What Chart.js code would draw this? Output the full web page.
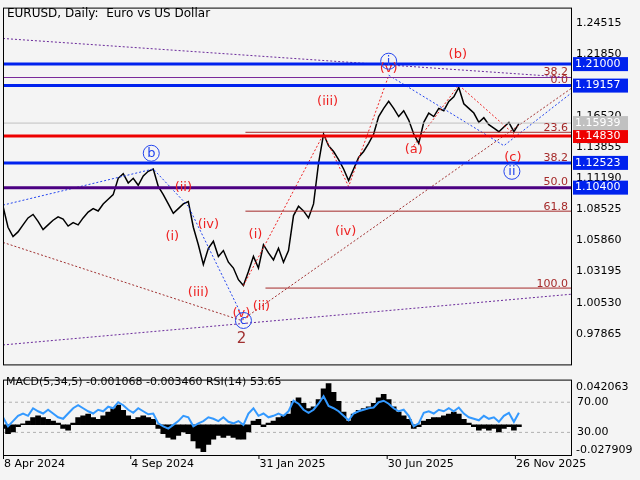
<!DOCTYPE html>
<html><head><meta charset="utf-8">
<script src="https://cdn.jsdelivr.net/npm/chart.js@4/dist/chart.umd.min.js"></script>
<style>
body{margin:0;background:#f4f4f4;width:640px;height:480px;overflow:hidden;font-family:"DejaVu Sans",sans-serif}
canvas{position:absolute;left:0}
#c1{top:0}#c2{top:372px}
</style></head><body>
<canvas id="c1" width="640" height="372"></canvas>
<canvas id="c2" width="640" height="108"></canvas>
<script>
const xs = Array.from({length:104},(_,i)=>i*5);
const closes = [1.088,1.070,1.062,1.066,1.072,1.078,1.081,1.075,1.068,1.072,1.076,1.079,1.077,1.071,1.074,1.072,1.078,1.083,1.086,1.084,1.090,1.094,1.098,1.112,1.116,1.108,1.112,1.106,1.114,1.118,1.120,1.105,1.098,1.090,1.082,1.086,1.090,1.092,1.070,1.055,1.038,1.052,1.058,1.045,1.050,1.040,1.035,1.025,1.020,1.032,1.045,1.035,1.055,1.048,1.042,1.052,1.040,1.050,1.080,1.088,1.084,1.078,1.090,1.125,1.150,1.140,1.135,1.128,1.120,1.110,1.120,1.130,1.135,1.142,1.150,1.165,1.172,1.178,1.172,1.165,1.170,1.162,1.150,1.142,1.160,1.168,1.165,1.172,1.170,1.178,1.182,1.190,1.176,1.172,1.168,1.160,1.164,1.158,1.155,1.152,1.156,1.160,1.152,1.159];
const rsi = [50,38,45,52,55,52,62,58,55,60,55,50,48,55,62,66,62,58,55,60,58,64,62,70,66,60,56,62,58,54,55,42,38,35,40,45,52,50,38,42,45,50,48,45,50,44,42,45,40,55,62,52,55,50,52,55,52,58,72,68,60,56,60,68,78,65,62,58,52,46,55,58,60,62,63,70,72,68,62,58,60,52,38,42,56,58,55,60,58,62,58,63,55,50,48,46,52,48,50,44,52,56,44,56];
const macd = [-0.004,-0.010,-0.008,-0.002,0.001,0.004,0.008,0.010,0.008,0.006,0.004,0.002,-0.004,-0.006,0.002,0.008,0.010,0.012,0.008,0.006,0.010,0.014,0.018,0.022,0.016,0.010,0.006,0.008,0.010,0.008,0.006,-0.004,-0.010,-0.014,-0.016,-0.012,-0.008,-0.010,-0.018,-0.026,-0.030,-0.022,-0.016,-0.012,-0.014,-0.012,-0.014,-0.016,-0.016,-0.008,0.004,0.006,-0.002,0.002,0.004,0.008,0.010,0.012,0.026,0.030,0.024,0.018,0.020,0.028,0.040,0.046,0.036,0.026,0.014,0.004,0.012,0.016,0.018,0.020,0.024,0.030,0.034,0.028,0.020,0.014,0.010,0.006,-0.004,-0.002,0.004,0.006,0.008,0.008,0.010,0.012,0.014,0.012,0.006,0.002,-0.002,-0.006,-0.004,-0.006,-0.004,-0.008,-0.004,-0.002,-0.006,-0.002];
const priceTicks = [1.24515,1.21850,1.16520,1.13855,1.11190,1.08525,1.05860,1.03195,1.00530,0.97865];
const levels = [ {v:1.21000,c:'#0022ee',w:3,box:'#0022ee'}, {v:1.19157,c:'#0022ee',w:3,box:'#0022ee'}, {v:1.14830,c:'#ee0000',w:3,box:'#ee0000'}, {v:1.12523,c:'#0022ee',w:3,box:'#0022ee'}, {v:1.10400,c:'#4b0082',w:3,box:'#0022ee'}, {v:1.15939,c:'#c0c0c0',w:1,box:'#c0c0c0'}, {v:1.1985,c:'#7a2a9a',w:1,box:null} ];
const fibLevels = [[242,1.1916],[242,1.1515],[242,1.1254],[242,1.0838],[262,1.0178]];
const fibLabels = [['38.2',1.2034],['0.0',1.1960],['23.6',1.1550],['38.2',1.1294],['50.0',1.1083],['61.8',1.0870],['100.0',1.0215]];
const dateLabels = [['8 Apr 2024',0],['4 Sep 2024',127],['31 Jan 2025',255],['30 Jun 2025',383],['26 Nov 2025',511]];
const waveRed = [['(ii)',180,1.104],['(i)',169,1.062],['(iv)',205,1.072],['(iii)',195,1.014],['(v)',238,0.996],['(ii)',258,1.002],['(i)',252,1.064],['(iii)',324,1.178],['(iv)',342,1.066],['(v)',385,1.206],['(a)',410,1.137],['(b)',454,1.218],['(c)',509,1.130]];
const waveBlue = [['b',148,1.1335],['c',240,0.990],['i',385,1.2125],['ii',508,1.118]];
const dotted = [
 {p:[[0,1.232],[567,1.1985]],c:'#6a2a9a'},
 {p:[[0,0.969],[567,1.0125]],c:'#6a2a9a'},
 {p:[[0,1.057],[238,0.990],[567,1.189]],c:'#a03030'},
 {p:[[0,1.089],[150,1.120],[185,1.088],[238,0.995]],c:'#2244ee'},
 {p:[[385,1.2005],[500,1.140],[567,1.185]],c:'#2244ee'},
 {p:[[240,1.020],[320,1.150],[345,1.105],[385,1.200]],c:'#ee2222'},
 {p:[[410,1.140],[455,1.192],[510,1.150]],c:'#ee2222'}
];
const toPts = a=>a.map(q=>({x:q[0],y:q[1]}));
const ds = [];
levels.forEach(l=>ds.push({data:toPts([[0,l.v],[567,l.v]]),borderColor:l.c,borderWidth:l.w,pointRadius:0}));
fibLevels.forEach(f=>ds.push({data:toPts([[f[0],f[1]],[567,f[1]]]),borderColor:'#a52a2a',borderWidth:1,pointRadius:0}));
dotted.forEach(d=>ds.push({data:toPts(d.p),borderColor:d.c,borderWidth:1,borderDash:[2,2],pointRadius:0}));
ds.push({data:xs.map((x,i)=>({x,y:closes[i]})),borderColor:'#000',borderWidth:1.5,pointRadius:0,tension:0});

const border = {id:'bd',afterDraw(ch){const a=ch.chartArea,c=ch.ctx;c.save();c.strokeStyle='#000';c.lineWidth=1;c.strokeRect(a.left+.5,a.top+.5,a.right-a.left,a.bottom-a.top);c.restore();}};
const anno = {id:'an',afterDraw(ch){
 const c=ch.ctx,X=ch.scales.x,Y=ch.scales.y;c.save();
 c.font='12px "DejaVu Sans"';c.fillStyle='#000';c.textBaseline='middle';c.textAlign='left';
 c.fillText('EURUSD, Daily:  Euro vs US Dollar',7,14);
 c.font='11px "DejaVu Sans"';c.fillStyle='#a52a2a';c.textAlign='right';
 fibLabels.forEach(f=>c.fillText(f[0],568,Y.getPixelForValue(f[1])));
 c.font='13px "DejaVu Sans"';c.textAlign='center';c.fillStyle='#ee2222';
 waveRed.forEach(w=>c.fillText(w[0],X.getPixelForValue(w[1]),Y.getPixelForValue(w[2])));
 c.fillStyle='#a03030';c.font='15px "DejaVu Sans"';c.fillText('2',X.getPixelForValue(238),Y.getPixelForValue(0.974));
 c.font='13px "DejaVu Sans"';
 waveBlue.forEach(w=>{const px=X.getPixelForValue(w[1]),py=Y.getPixelForValue(w[2]);c.strokeStyle='#2244ee';c.lineWidth=1;c.beginPath();c.arc(px,py,8,0,Math.PI*2);c.stroke();c.fillStyle='#2244ee';c.fillText(w[0],px,py);});
 c.textAlign='left';c.font='11px "DejaVu Sans"';
 levels.forEach(l=>{if(!l.box)return;const py=Y.getPixelForValue(l.v);c.fillStyle=l.box;c.fillRect(573,py-7,55,14);c.fillStyle='#fff';c.fillText(l.v.toFixed(5),575,py);});
 c.restore();}};
new Chart(document.getElementById('c1'),{type:'line',data:{datasets:ds},
 options:{animation:false,responsive:false,events:[],layout:{padding:{left:3,top:3,right:0,bottom:1}},
 plugins:{legend:{display:false},tooltip:{enabled:false}},
 scales:{x:{type:'linear',min:0,max:567,display:false},
 y:{position:'right',min:0.9523,max:1.2585,afterFit(s){s.width=69;},afterBuildTicks(s){s.ticks=priceTicks.map(v=>({value:v}));},
  grid:{display:false,drawTicks:true,tickLength:4,tickColor:'#000'},border:{display:false},
  ticks:{color:'#000',font:{family:'DejaVu Sans',size:11},padding:1,callback:v=>v.toFixed(5)}}}},
 plugins:[border,anno]});

const anno2 = {id:'an2',afterDraw(ch){
 const c=ch.ctx,X=ch.scales.x,R=ch.scales.yr;c.save();c.font='11px "DejaVu Sans"';c.fillStyle='#000';c.textBaseline='middle';
 c.fillText('MACD(5,34,5) -0.001068 -0.003460 RSI(14) 53.65',6,10);
 c.fillText('70.00',577,R.getPixelForValue(70));c.fillText('30.00',577,R.getPixelForValue(30));
 c.textBaseline='top';
 dateLabels.forEach(d=>{const px=X.getPixelForValue(d[1]);c.fillRect(px,ch.chartArea.bottom,1,4);c.fillText(d[0],px+1,ch.chartArea.bottom+4);});
 c.restore();}};
new Chart(document.getElementById('c2'),{data:{datasets:[
 {type:'line',data:[{x:0,y:70},{x:567,y:70}],yAxisID:'yr',borderColor:'#b0b0b0',borderWidth:1,borderDash:[3,3],pointRadius:0,order:2},
 {type:'line',data:[{x:0,y:30},{x:567,y:30}],yAxisID:'yr',borderColor:'#b0b0b0',borderWidth:1,borderDash:[3,3],pointRadius:0,order:2},
 {type:'bar',data:xs.map((x,i)=>({x,y:macd[i]})),yAxisID:'ym',backgroundColor:'#000',barPercentage:1,categoryPercentage:1,barThickness:5,order:1},
 {type:'line',data:xs.map((x,i)=>({x,y:rsi[i]})),yAxisID:'yr',borderColor:'#3399ff',borderWidth:2,pointRadius:0,order:0}
 ]},
 options:{animation:false,responsive:false,events:[],layout:{padding:{left:3,top:1,right:0,bottom:0}},
 plugins:{legend:{display:false},tooltip:{enabled:false}},
 scales:{x:{type:'linear',min:0,max:567,offset:false,display:false,afterFit(s){s.height=25;}},
 yr:{axis:'y',type:'linear',min:0,max:100,display:false},
 ym:{axis:'y',type:'linear',position:'right',min:-0.0337,max:0.0503,afterFit(s){s.width=69;},afterBuildTicks(s){s.ticks=[{value:0.042063},{value:-0.027909}];},
  grid:{display:false,tickLength:4,tickColor:'#000'},border:{display:false},
  ticks:{color:'#000',font:{family:'DejaVu Sans',size:11},padding:1,callback:v=>v.toString()}}}},
 plugins:[border,anno2]});
</script></body></html>
